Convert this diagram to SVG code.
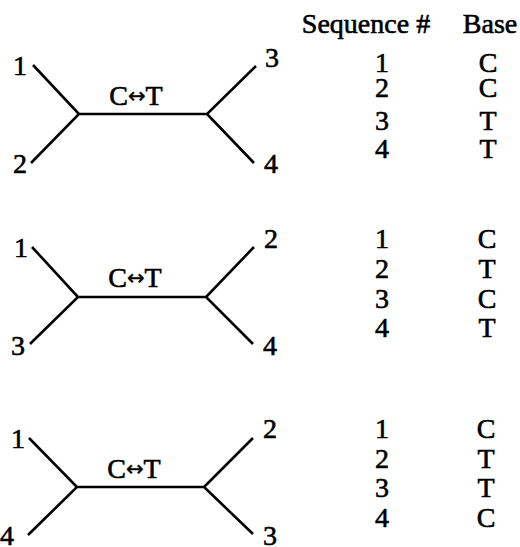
<svg xmlns="http://www.w3.org/2000/svg" width="520" height="547" viewBox="0 0 520 547">
<style>
text{font-family:"Liberation Serif","Times New Roman",serif;font-size:28px;fill:#000;stroke:#000;stroke-width:0.6}
.m{text-anchor:middle}
.a{font-family:"DejaVu Sans",sans-serif;font-size:21px;stroke-width:0.4}
.e{fill:none;stroke:#000;stroke-width:2.6;stroke-linecap:butt;stroke-linejoin:miter}
</style>
<rect width="520" height="547" fill="#fff"/>
<g id="connectors">
<path class="e" d="M33,65 L79,114 L31,163 M79,114 L207,114 M256,66 L207,114 L254,163"/>
<path class="e" d="M32,247 L78,297 L30,344 M78,297 L206,297 M254,247 L206,297 L253,344"/>
<path class="e" d="M29,438 L77,487 L28,535 M77,487 L204,487 M253,438 L204,487 L253,534"/>
</g>
<g id="tree1">
<text x="20" y="75" class="m">1</text>
<text x="20" y="173" class="m">2</text>
<text x="272" y="67" class="m">3</text>
<text x="271" y="173" class="m">4</text>
<text x="136" y="105" class="m">C<tspan class="a" dy="-2">↔</tspan><tspan dy="2">T</tspan></text>
</g>
<g id="tree2">
<text x="21" y="257" class="m">1</text>
<text x="18" y="355" class="m">3</text>
<text x="271" y="248" class="m">2</text>
<text x="270" y="355" class="m">4</text>
<text x="135" y="287" class="m">C<tspan class="a" dy="-2">↔</tspan><tspan dy="2">T</tspan></text>
</g>
<g id="tree3">
<text x="18" y="448" class="m">1</text>
<text x="7" y="545" class="m">4</text>
<text x="270" y="438" class="m">2</text>
<text x="270" y="545" class="m">3</text>
<text x="134" y="478" class="m">C<tspan class="a" dy="-2">↔</tspan><tspan dy="2">T</tspan></text>
</g>
<g id="table">
<text x="366" y="33" class="m">Sequence #</text>
<text x="490" y="33" class="m">Base</text>
<text x="382" y="72" class="m">1</text><text x="488" y="72" class="m">C</text>
<text x="382" y="97" class="m">2</text><text x="488" y="97" class="m">C</text>
<text x="382" y="130" class="m">3</text><text x="488" y="130" class="m">T</text>
<text x="382" y="158" class="m">4</text><text x="488" y="158" class="m">T</text>
<text x="382" y="248" class="m">1</text><text x="487" y="248" class="m">C</text>
<text x="382" y="278" class="m">2</text><text x="487" y="278" class="m">T</text>
<text x="382" y="308" class="m">3</text><text x="487" y="308" class="m">C</text>
<text x="382" y="337" class="m">4</text><text x="487" y="337" class="m">T</text>
<text x="382" y="438" class="m">1</text><text x="486" y="438" class="m">C</text>
<text x="382" y="468" class="m">2</text><text x="486" y="468" class="m">T</text>
<text x="382" y="497" class="m">3</text><text x="486" y="497" class="m">T</text>
<text x="382" y="527" class="m">4</text><text x="486" y="527" class="m">C</text>
</g>
</svg>
